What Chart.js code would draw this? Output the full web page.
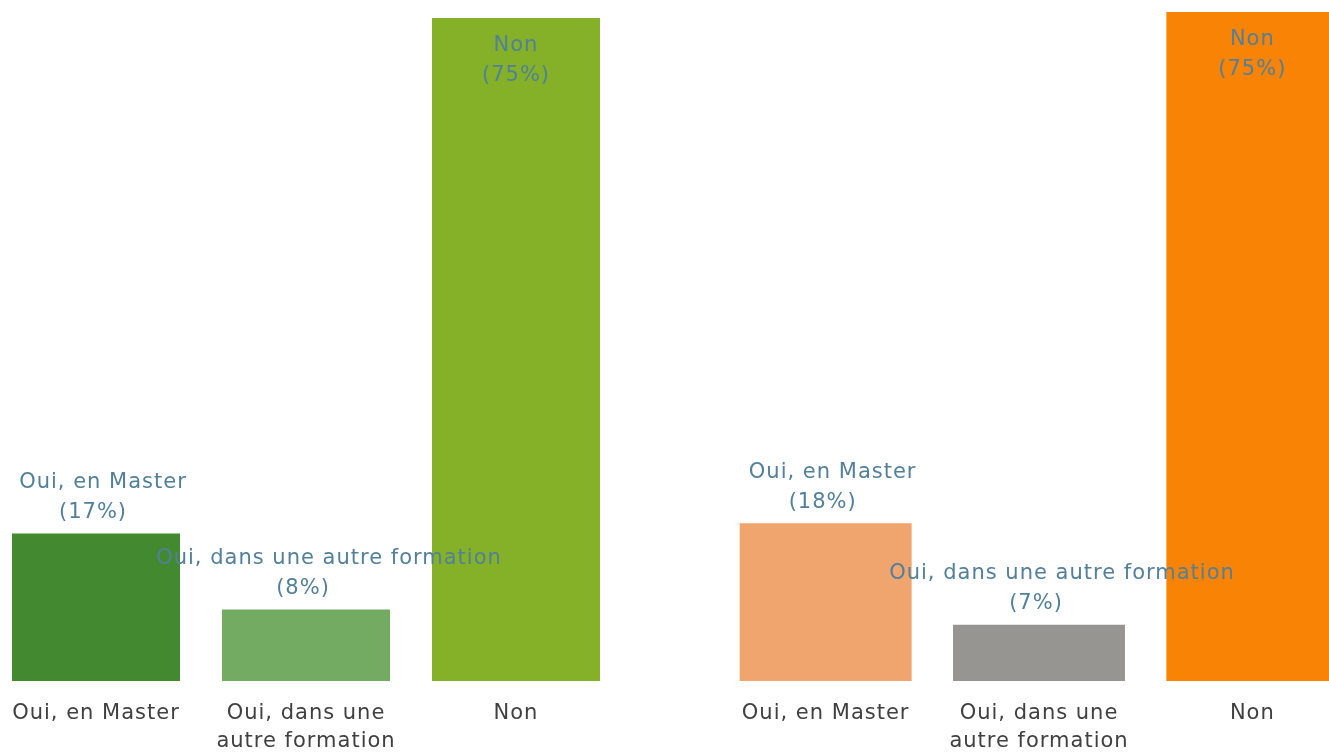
<!DOCTYPE html>
<html>
<head>
<meta charset="utf-8">
<script src="https://cdn.jsdelivr.net/npm/chart.js@4.4.1/dist/chart.umd.min.js"></script>
<style>
  html, body { margin: 0; padding: 0; background: #ffffff; }
  body { width: 1329px; height: 754px; position: relative; overflow: hidden; }
  .panel { position: absolute; top: 0; height: 754px; }
  #wrapL { left: -9px; width: 630px; }
  #wrapR { left: 719px; width: 640px; }
</style>
</head>
<body>
<div class="panel" id="wrapL"><canvas id="chartL"></canvas></div>
<div class="panel" id="wrapR"><canvas id="chartR"></canvas></div>
<script>
// ---- Data ----
const categories = [["Oui, en Master"], ["Oui, dans une", "autre formation"], ["Non"]];
const labelNames = ["Oui, en Master", "Oui, dans une autre formation", "Non"];
const leftValues = [16.7, 8.1, 75];
const leftPct = ["(17%)", "(8%)", "(75%)"];
const rightValues = [17.7, 6.3, 75];
const rightPct = ["(18%)", "(7%)", "(75%)"];
const leftColors = ["#43892f", "#74ab62", "#84b127"];
const rightColors = ["#f0a46e", "#979592", "#f88304"];

const FONT = "'DejaVu Sans', sans-serif";
const LABEL_COLOR = "#52809a";

const spacingPlugin = {
  id: 'spacingPlugin',
  beforeInit(chart) { chart.ctx.letterSpacing = '1px'; },
  beforeDraw(chart) { chart.ctx.letterSpacing = '1px'; }
};

const dataLabelPlugin = {
  id: 'dataLabelPlugin',
  afterDatasetsDraw(chart, args, opts) {
    const ctx = chart.ctx;
    const meta = chart.getDatasetMeta(0);
    ctx.save();
    ctx.letterSpacing = '1px';
    ctx.font = opts.fontSize + "px " + FONT;
    ctx.fillStyle = LABEL_COLOR;
    ctx.textAlign = "center";
    ctx.textBaseline = "middle";
    meta.data.forEach((bar, i) => {
      const lines = [opts.names[i], opts.pct[i]];
      const inside = opts.inside[i];
      const dx = opts.dx[i];
      let y0;
      if (inside) {
        y0 = bar.y + 28;
      } else {
        y0 = bar.y - 21 - 30;
      }
      ctx.fillText(lines[0], bar.x + dx[0], y0);
      ctx.fillText(lines[1], bar.x + dx[1], y0 + 30);
    });
    ctx.restore();
  }
};

function makeChart(id, values, pct, colors, yMax, barPct) {
  return new Chart(document.getElementById(id), {
    type: 'bar',
    data: {
      labels: categories,
      datasets: [{
        data: values,
        backgroundColor: colors,
        borderWidth: 0,
        barPercentage: barPct,
        categoryPercentage: 1.0
      }]
    },
    options: {
      responsive: true,
      maintainAspectRatio: false,
      animation: false,
      layout: { padding: 0 },
      plugins: {
        legend: { display: false },
        tooltip: { enabled: false },
        dataLabelPlugin: {
          names: labelNames,
          pct: pct,
          inside: [false, false, true],
          dx: [[7, -3], [23, -3], [0, 0]],
          fontSize: 21
        }
      },
      scales: {
        x: {
          grid: { display: false, drawTicks: false },
          border: { display: false },
          ticks: {
            color: "#404040",
            font: { family: FONT, size: 21, lineHeight: 1.35 },
            padding: 18,
            maxRotation: 0,
            autoSkip: false
          },
          afterFit(scale) { scale.height = 73; }
        },
        y: {
          display: false,
          min: 0,
          max: yMax
        }
      }
    },
    plugins: [spacingPlugin, dataLabelPlugin]
  });
}

makeChart('chartL', leftValues, leftPct, leftColors, 77.04, 0.8);
makeChart('chartR', rightValues, rightPct, rightColors, 76.35, 0.806);
</script>
</body>
</html>
